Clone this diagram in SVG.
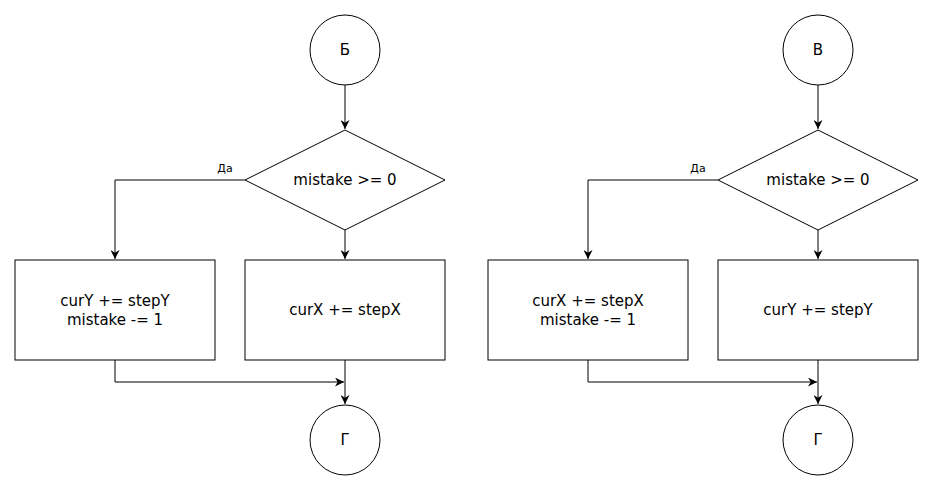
<svg xmlns="http://www.w3.org/2000/svg" width="933" height="490" viewBox="0 0 933 490">
<style>
.s{fill:#fff;stroke:#000;stroke-width:1}
.e{fill:none;stroke:#000;stroke-width:1}
.t{font-family:"DejaVu Sans",sans-serif;font-size:15px;fill:#000;text-anchor:middle;dominant-baseline:central}
.l{font-family:"DejaVu Sans",sans-serif;font-size:11px;fill:#000;text-anchor:middle}
</style>
<defs>
<marker id="a" viewBox="0 0 10 10" refX="10" refY="5" markerWidth="9" markerHeight="9" markerUnits="userSpaceOnUse" orient="auto">
<path d="M0,0 L10,5 L0,10 L3,5 Z" fill="#000"/>
</marker>
</defs>
<rect width="933" height="490" fill="#fff"/>
<g id="connectors">
<path class="e" d="M345,85 V129" marker-end="url(#a)"/>
<path class="e" d="M245,180 H115 V259" marker-end="url(#a)"/>
<path class="e" d="M345,230 V259" marker-end="url(#a)"/>
<path class="e" d="M115,360 V382 H344" marker-end="url(#a)"/>
<path class="e" d="M345,360 V404" marker-end="url(#a)"/>
<text class="l" x="225" y="172">Да</text>
<path class="e" d="M818,85 V129" marker-end="url(#a)"/>
<path class="e" d="M718,180 H588 V259" marker-end="url(#a)"/>
<path class="e" d="M818,230 V259" marker-end="url(#a)"/>
<path class="e" d="M588,360 V382 H817" marker-end="url(#a)"/>
<path class="e" d="M818,360 V404" marker-end="url(#a)"/>
<text class="l" x="698" y="172">Да</text>
</g>
<g id="startB"><circle class="s" cx="345" cy="50" r="35"/><text class="t" x="345" y="50">Б</text></g>
<g id="cond1"><path class="s" d="M345,130 L445,180 L345,230 L245,180 Z"/><text class="t" x="345" y="180">mistake &gt;= 0</text></g>
<g id="box1a"><rect class="s" x="15" y="260" width="200" height="100"/><text class="t" x="115" y="301">curY += stepY</text><text class="t" x="115" y="320">mistake -= 1</text></g>
<g id="box1b"><rect class="s" x="245" y="260" width="200" height="100"/><text class="t" x="345" y="310">curX += stepX</text></g>
<g id="endG1"><circle class="s" cx="345" cy="440" r="35"/><text class="t" x="345" y="440">Г</text></g>
<g id="startV"><circle class="s" cx="818" cy="50" r="35"/><text class="t" x="818" y="50">В</text></g>
<g id="cond2"><path class="s" d="M818,130 L918,180 L818,230 L718,180 Z"/><text class="t" x="818" y="180">mistake &gt;= 0</text></g>
<g id="box2a"><rect class="s" x="488" y="260" width="200" height="100"/><text class="t" x="588" y="301">curX += stepX</text><text class="t" x="588" y="320">mistake -= 1</text></g>
<g id="box2b"><rect class="s" x="718" y="260" width="200" height="100"/><text class="t" x="818" y="310">curY += stepY</text></g>
<g id="endG2"><circle class="s" cx="818" cy="440" r="35"/><text class="t" x="818" y="440">Г</text></g>
</svg>
